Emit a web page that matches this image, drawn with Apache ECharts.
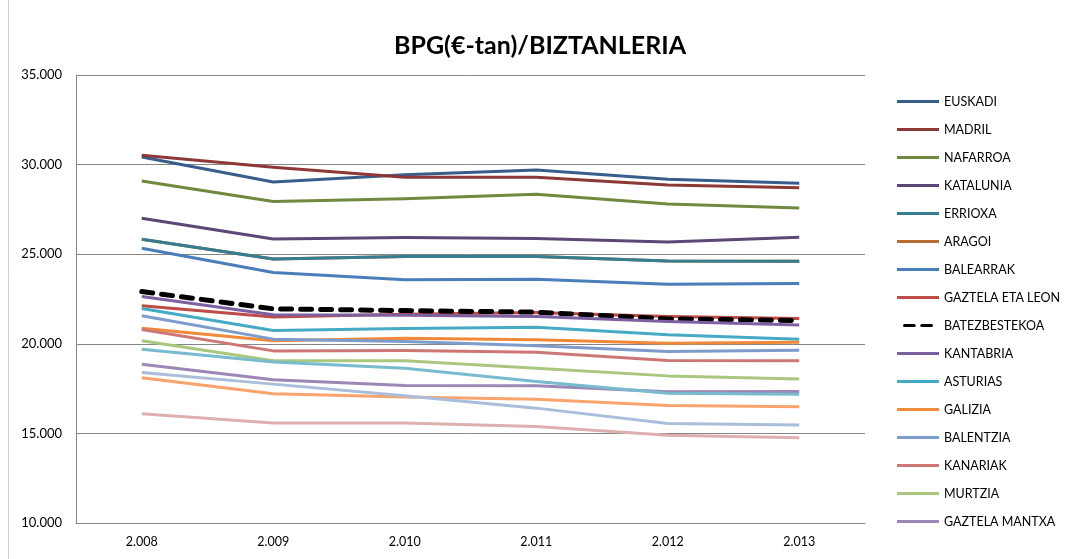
<!DOCTYPE html>
<html>
<head>
<meta charset="utf-8">
<script src="https://cdn.jsdelivr.net/npm/echarts@6/dist/echarts.min.js"></script>
<style>
html,body{margin:0;padding:0;background:#fff;}
#chart{width:1070px;height:559px;}
</style>
</head>
<body>
<div id="chart"></div>
<script>
const years = ['2.008','2.009','2.010','2.011','2.012','2.013'];
const yTicks = [10000,15000,20000,25000,30000,35000];

const EUSKADI        = [30420,29030,29440,29700,29180,28960];
const MADRIL         = [30520,29850,29290,29290,28865,28715];
const NAFARROA       = [29090,27935,28100,28345,27805,27580];
const KATALUNIA      = [27010,25853,25930,25870,25685,25950];
const ERRIOXA        = [25840,24738,24870,24870,24625,24610];
const ARAGOI         = [25840,24738,24870,24870,24625,24610];
const BALEARRAK      = [25330,23975,23570,23605,23325,23360];
const GAZTELA_LEON   = [22120,21490,21650,21750,21520,21410];
const BATEZBESTEKOA  = [22915,21950,21855,21765,21390,21300];
const KANTABRIA      = [22640,21615,21600,21525,21240,21055];
const ASTURIAS       = [21970,20740,20850,20930,20500,20260];
const GALIZIA        = [20870,20165,20310,20220,20035,20090];
const BALENTZIA      = [21560,20260,20125,19885,19570,19645];
const KANARIAK       = [20795,19605,19620,19530,19070,19050];
const MURTZIA        = [20165,19050,19050,18640,18210,18030];
const GAZTELA_MANTXA = [18865,17990,17670,17655,17320,17340];
const CEUTA          = [19700,18990,18640,17895,17245,17190];
const ANDALUZIA      = [18100,17210,17025,16910,16560,16490];
const MELILLA        = [18400,17750,17100,16410,15555,15470];
const EXTREMADURA    = [16090,15575,15575,15385,14900,14760];

const seriesDefs = [
  ['EUSKADI', EUSKADI, '#385D8A'],
  ['MADRIL', MADRIL, '#8C3836'],
  ['NAFARROA', NAFARROA, '#71893F'],
  ['KATALUNIA', KATALUNIA, '#5C4776'],
  ['ARAGOI', ARAGOI, '#B66D31'],
  ['ERRIOXA', ERRIOXA, '#357D91'],
  ['BALEARRAK', BALEARRAK, '#4A7EBB'],
  ['GAZTELA ETA LEON', GAZTELA_LEON, '#BE4B48'],
  ['BATEZBESTEKOA', BATEZBESTEKOA, '#000000'],
  ['KANTABRIA', KANTABRIA, '#7D60A0'],
  ['ASTURIAS', ASTURIAS, '#46AAC5'],
  ['GALIZIA', GALIZIA, '#F08A3A'],
  ['BALENTZIA', BALENTZIA, '#7E9CCB'],
  ['KANARIAK', KANARIAK, '#CC7775'],
  ['MURTZIA', MURTZIA, '#AAC77F'],
  ['GAZTELA MANTXA', GAZTELA_MANTXA, '#9C87B6'],
  ['CEUTA', CEUTA, '#78BBD0'],
  ['ANDALUZIA', ANDALUZIA, '#F9A46D'],
  ['MELILLA', MELILLA, '#AABEDC'],
  ['EXTREMADURA', EXTREMADURA, '#DDB0AF']
];

const legendNames = ['EUSKADI','MADRIL','NAFARROA','KATALUNIA','ERRIOXA','ARAGOI','BALEARRAK',
  'GAZTELA ETA LEON','BATEZBESTEKOA','KANTABRIA','ASTURIAS','GALIZIA','BALENTZIA','KANARIAK',
  'MURTZIA','GAZTELA MANTXA'];

const dashIcon = 'path://M2,0 L15,0 A2,2 0 0 1 15,4 L2,4 A2,2 0 0 1 2,0 Z M25,0 L38,0 A2,2 0 0 1 38,4 L25,4 A2,2 0 0 1 25,0 Z';
const legendData = legendNames.map(function(n){
  return {name: n, icon: n === 'BATEZBESTEKOA' ? dashIcon : 'rect'};
});

const chart = echarts.init(document.getElementById('chart'), null, {renderer:'canvas'});
const font = 'Lato, "Open Sans", "Noto Sans", sans-serif';

const series = seriesDefs.map(function(d){
  const isAvg = d[0] === 'BATEZBESTEKOA';
  return {
    name: d[0],
    type: 'line',
    data: d[1],
    symbol: 'none',
    smooth: false,
    animation: false,
    color: d[2],
    lineStyle: isAvg ? {width: 5, color: d[2], type: [11, 9], cap: 'round', join: 'round'}
                     : {width: 3, color: d[2], join: 'round'},
    emphasis: {disabled: true}
  };
});

chart.setOption({
  animation: false,
  backgroundColor: '#ffffff',
  title: {
    text: 'BPG(€-tan)/BIZTANLERIA',
    left: 535, top: 28, textAlign: 'center',
    textStyle: {fontFamily: font, fontSize: 25, fontWeight: 'bold', color: '#000'}
  },
  legend: {
    orient: 'vertical',
    left: 897, top: 94.5, padding: 0,
    itemWidth: 42, itemHeight: 3, itemGap: 14,
    data: legendData,
    selectedMode: false,
    textStyle: {fontFamily: font, fontSize: 12.5, lineHeight: 14, color: '#000'}
  },
  grid: {left: 76, right: 205, top: 75, bottom: 36, containLabel: false},
  xAxis: {
    type: 'category',
    data: years,
    boundaryGap: true,
    axisLine: {lineStyle: {color: '#868686', width: 1}},
    axisTick: {show: false},
    axisLabel: {color: '#000', fontFamily: font, fontSize: 12.5, margin: 12}
  },
  yAxis: {
    type: 'value',
    min: yTicks[0], max: yTicks[yTicks.length-1], interval: 5000,
    axisLine: {show: true, lineStyle: {color: '#868686', width: 1}},
    axisTick: {show: false},
    splitLine: {lineStyle: {color: '#868686', width: 1}},
    axisLabel: {
      color: '#000', fontFamily: font, fontSize: 13, margin: 14,
      formatter: function(v){ return v.toLocaleString('de-DE'); }
    }
  },
  graphic: [{
    type: 'line', shape: {x1: 8.5, y1: 0, x2: 8.5, y2: 559},
    style: {stroke: '#d0d0d0', lineWidth: 1}
  }],
  series: series
});
</script>
</body>
</html>
